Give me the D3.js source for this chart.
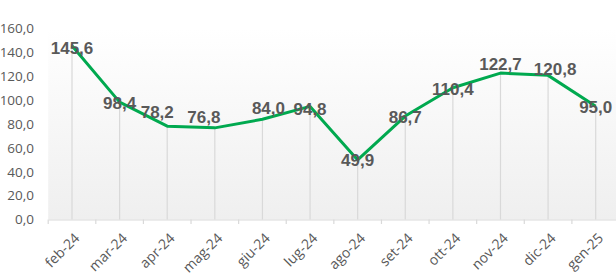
<!DOCTYPE html>
<html><head><meta charset="utf-8">
<script src="https://cdn.jsdelivr.net/npm/d3@7"></script>
<style>html,body{margin:0;padding:0;background:#fff;overflow:hidden}</style>
</head><body><svg id="c" width="616" height="280"></svg>
<script>
const categories = ["feb-24","mar-24","apr-24","mag-24","giu-24","lug-24","ago-24","set-24","ott-24","nov-24","dic-24","gen-25"];
const values = [145.6,98.4,78.2,76.8,84.0,94.8,49.9,86.7,110.4,122.7,120.8,95.0];
const yTicks = [0,20,40,60,80,100,120,140,160];
// label offsets (dx, dy) in px relative to the point
const labelOffsets = [[0,2],[0,1],[-10,-14],[-11,-11],[6,-11],[0,2],[0,0],[0,1],[0,1],[0,-9],[7,-6],[0,1]];

const svg = d3.select("#c");
const pLeft = 48.2, pRight = 619.5, pTop = 28.6, pBottom = 219.5;
const x = d3.scaleBand().domain(categories).range([pLeft, pRight]).padding(0);
const y = d3.scaleLinear().domain([0,160]).range([pBottom, pTop]);
const fmt = v => d3.format(".1f")(v).replace(".", ",");

const defs = svg.append("defs");
const g = defs.append("linearGradient").attr("id","bg").attr("x1",0).attr("y1",0).attr("x2",0).attr("y2",1);
g.append("stop").attr("offset","0%").attr("stop-color","#ffffff");
g.append("stop").attr("offset","100%").attr("stop-color","#efefef");
svg.append("rect").attr("x",pLeft).attr("y",pTop).attr("width",pRight-pLeft).attr("height",pBottom-pTop).attr("fill","url(#bg)");

// y axis labels
const yAxis = d3.axisLeft(y).tickValues(yTicks).tickFormat(fmt).tickSize(0).tickPadding(0);
const ya = svg.append("g").attr("transform",`translate(34,0)`).call(yAxis);
ya.select(".domain").remove();
ya.selectAll("text").attr("font-family","Open Sans").attr("font-size","13.5px").attr("fill","#595959");

// x axis
const xAxis = d3.axisBottom(x).tickSize(0).tickPadding(0);
const xa = svg.append("g").attr("transform",`translate(0,${pBottom})`).call(xAxis);
xa.select(".domain").attr("stroke","#d9d9d9").attr("stroke-width",1.2);
xa.selectAll("text")
  .attr("font-family","Open Sans").attr("font-size","14px").attr("fill","#595959")
  .attr("text-anchor","end")
  .attr("transform","translate(5,16) rotate(-45)")
  .attr("dy","0.35em").attr("y",0).attr("x",0);
// tick marks at category boundaries
const bounds = categories.map(c => x(c)).concat([pRight]);
svg.append("g").selectAll("line").data(bounds).join("line")
  .attr("x1",d=>d).attr("x2",d=>d).attr("y1",pBottom).attr("y2",pBottom+4.5)
  .attr("stroke","#d9d9d9").attr("stroke-width",1.2);

const cx = c => x(c) + x.bandwidth()/2;
// drop lines
svg.append("g").selectAll("line").data(values).join("line")
  .attr("x1",(d,i)=>cx(categories[i])).attr("x2",(d,i)=>cx(categories[i]))
  .attr("y1",d=>y(d)).attr("y2",pBottom)
  .attr("stroke","#d9d9d9").attr("stroke-width",1.2);

// line
const line = d3.line().x((d,i)=>cx(categories[i])).y(d=>y(d));
svg.append("path").datum(values).attr("d",line)
  .attr("fill","none").attr("stroke","#00a94f").attr("stroke-width",3).attr("stroke-linejoin","round");

// labels
svg.append("g").selectAll("text").data(values).join("text")
  .attr("x",(d,i)=>cx(categories[i]) + labelOffsets[i][0])
  .attr("y",(d,i)=>y(d) + labelOffsets[i][1])
  .attr("dy","0.36em").attr("text-anchor","middle")
  .attr("font-family","Liberation Sans").attr("font-weight","bold").attr("font-size","17px")
  .attr("fill","#595959")
  .text(d=>fmt(d));
</script></body></html>
